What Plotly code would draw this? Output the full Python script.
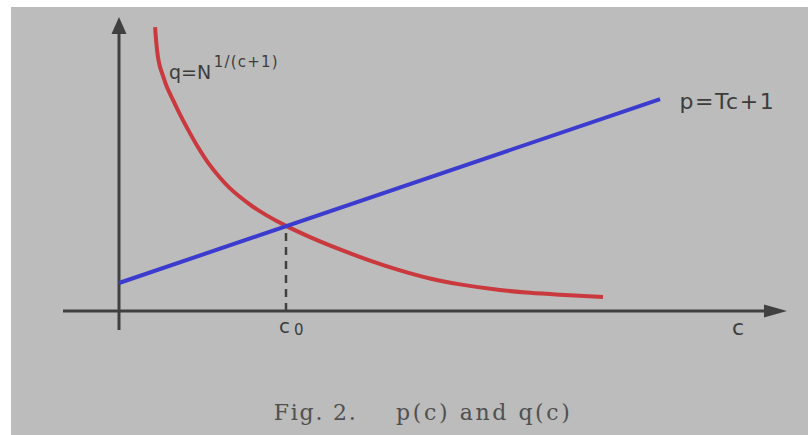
import plotly.graph_objects as go

# ---- data (schematic units: c along the horizontal axis, value along the vertical axis)
line_c = [0.0, 3.24]          # p = Tc + 1 (straight line)
line_p = [1.0, 7.57]
curve_c = [0.216, 0.222, 0.228, 0.234, 0.246, 0.264, 0.287, 0.323, 0.365, 0.413,
           0.467, 0.533, 0.605, 0.665, 0.725, 0.796, 0.874, 1.0, 1.144, 1.323,
           1.503, 1.683, 1.862, 2.042, 2.281, 2.461, 2.641, 2.898]   # q = N^(1/(c+1))
curve_q = [10.14, 9.68, 9.32, 9.04, 8.71, 8.39, 8.0, 7.54, 7.02, 6.48,
           5.91, 5.30, 4.76, 4.38, 4.07, 3.75, 3.45, 3.04, 2.64, 2.20,
           1.80, 1.45, 1.16, 0.95, 0.75, 0.65, 0.58, 0.50]
c0 = 1.0
v_c0 = 3.04
label_p = "p=Tc+1"
label_q = "q=N"
label_q_exp = "1/(c+1)"
caption_a = "Fig. 2."
caption_b = "p(c) and q(c)"

# ---- layout geometry
W, H = 808, 435
OX, OY = 119, 311            # origin pixel
SX, SY = 167.0, 28.0         # px per unit
xr = [-OX / SX, (W - OX) / SX]
yr = [(OY - H) / SY, OY / SY]

AX_COL = "#404040"
TXT_COL = "#3c3c3c"
RED = "#c9393d"
BLUE = "#3b3bcf"

x_axis_start, x_axis_end = -56 / SX, 668 / SX
y_axis_start, y_axis_end = -19 / SY, 294 / SY

fig = go.Figure()

# axes lines
fig.add_trace(go.Scatter(x=[x_axis_start, x_axis_end - 18 / SX], y=[0, 0], mode="lines",
                         line=dict(color=AX_COL, width=3), hoverinfo="skip"))
fig.add_trace(go.Scatter(x=[0, 0], y=[y_axis_start, y_axis_end - 12 / SY], mode="lines",
                         line=dict(color=AX_COL, width=3), hoverinfo="skip"))

# dashed guide at c0
fig.add_trace(go.Scatter(x=[c0, c0], y=[0, v_c0], mode="lines",
                         line=dict(color=AX_COL, width=2.5, dash="8px,6px"), hoverinfo="skip"))

# curves
fig.add_trace(go.Scatter(x=curve_c, y=curve_q, mode="lines", line_shape="spline",
                         line=dict(color=RED, width=4, smoothing=1.0), hoverinfo="skip"))
fig.add_trace(go.Scatter(x=line_c, y=line_p, mode="lines",
                         line=dict(color=BLUE, width=4), hoverinfo="skip"))

shapes = [
    dict(type="rect", xref="paper", yref="paper", x0=11 / W, x1=1, y0=0, y1=(H - 7) / H,
         fillcolor="#bcbcbc", line=dict(width=0), layer="below"),
    # arrow heads
    dict(type="path", xref="x", yref="y",
         path=(f"M {x_axis_end} 0 L {x_axis_end - 23 / SX} {6.5 / SY} "
               f"L {x_axis_end - 23 / SX} {-6.5 / SY} Z"),
         fillcolor=AX_COL, line=dict(width=0)),
    dict(type="path", xref="x", yref="y",
         path=(f"M 0 {y_axis_end} L {7.5 / SX} {y_axis_end - 17 / SY} "
               f"L {-7.5 / SX} {y_axis_end - 17 / SY} Z"),
         fillcolor=AX_COL, line=dict(width=0)),
]

sans = "DejaVu Sans"
serif = "DejaVu Serif"
ann = [
    dict(x=(682 - OX) / SX, y=(OY - 101) / SY, text=label_p, xanchor="left", yanchor="middle",
         font=dict(family=sans, size=22, color=TXT_COL)),
    dict(x=(167 - OX) / SX, y=(OY - 72) / SY, text=label_q, xanchor="left", yanchor="middle",
         font=dict(family=sans, size=19, color=TXT_COL)),
    dict(x=(216 - OX) / SX, y=(OY - 62) / SY, text=label_q_exp, xanchor="left", yanchor="middle",
         font=dict(family=sans, size=15, color=TXT_COL)),
    dict(x=(284 - OX) / SX, y=(OY - 326) / SY, text="c", xanchor="center", yanchor="middle",
         font=dict(family=sans, size=20, color=TXT_COL)),
    dict(x=(299 - OX) / SX, y=(OY - 330) / SY, text="0", xanchor="center", yanchor="middle",
         font=dict(family=sans, size=15, color=TXT_COL)),
    dict(x=(738 - OX) / SX, y=(OY - 327) / SY, text="c", xanchor="center", yanchor="middle",
         font=dict(family=sans, size=22, color=TXT_COL)),
    dict(x=(315 - OX) / SX, y=(OY - 412) / SY, text=caption_a, xanchor="center", yanchor="middle",
         font=dict(family=serif, size=22, color="#505050")),
    dict(x=(484 - OX) / SX, y=(OY - 412) / SY, text=caption_b, xanchor="center", yanchor="middle",
         font=dict(family=serif, size=22, color="#505050")),
]
for a in ann:
    a.update(xref="x", yref="y", showarrow=False)

fig.update_layout(
    width=W, height=H, autosize=False,
    margin=dict(l=0, r=0, t=0, b=0),
    paper_bgcolor="white", plot_bgcolor="rgba(0,0,0,0)",
    showlegend=False,
    xaxis=dict(range=xr, visible=False, fixedrange=True),
    yaxis=dict(range=yr, visible=False, fixedrange=True),
    shapes=shapes, annotations=ann,
)

# remove default page margin; widen letters a little (reference text is stretched)
post = """
document.body.style.margin = '0';
document.body.style.overflow = 'hidden';
var t = document.querySelectorAll('.annotation-text');
var sp = {0: '1.5px', 2: '1.2px', 6: '1.8px', 7: '2.6px'};
for (var k in sp) { if (t[k]) { t[k].style.letterSpacing = sp[k]; } }
"""
fig.write_html("out.html", config=dict(displayModeBar=False), post_script=post)
